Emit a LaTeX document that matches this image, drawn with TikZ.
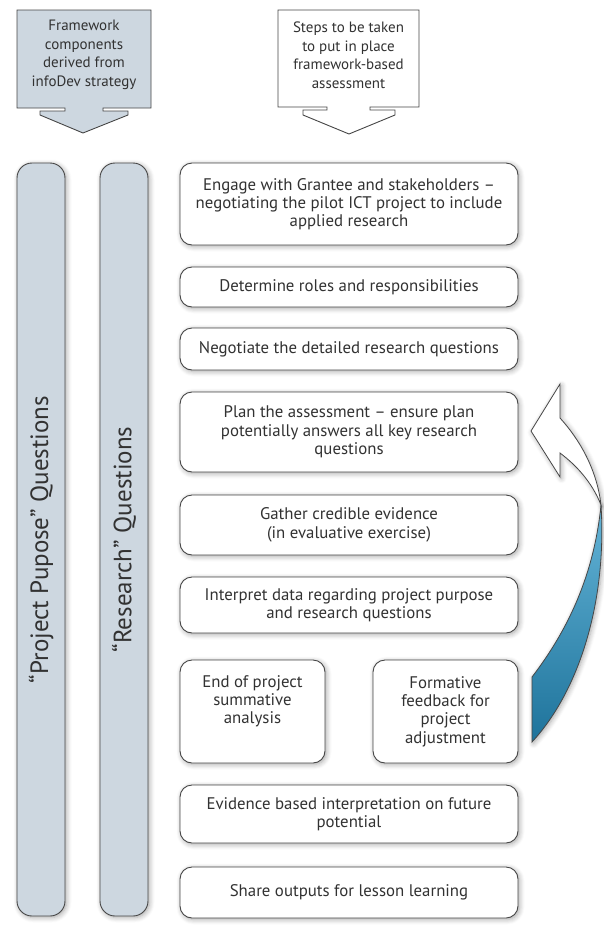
\documentclass[tikz,border=0pt]{standalone}
\usepackage{fontspec}
\setmainfont{PT Sans}
\usetikzlibrary{shadows.blur}
\definecolor{bgray}{RGB}{205,215,224}
\definecolor{edge}{RGB}{70,70,70}
\definecolor{txt}{RGB}{50,50,50}
\definecolor{bluedark}{RGB}{30,115,155}
\definecolor{bluelight}{RGB}{100,180,215}
\begin{document}
\begin{tikzpicture}[x=1pt,y=-1pt,
  softshadow/.style={blur shadow={shadow blur steps=6, shadow xshift=1.5pt, shadow yshift=-1.5pt, shadow blur radius=5pt, shadow opacity=35}},
  stepbox/.style={draw=edge, line width=0.9pt, fill=white, rounded corners=12pt, align=center,
    font=\fontsize{16.8}{18.3}\selectfont, text=txt, inner sep=0pt, softshadow},
  pill/.style={draw=edge, line width=0.9pt, fill=bgray, rounded corners=15pt, align=center,
    font=\fontsize{25}{28}\selectfont, text=txt, inner sep=0pt, rotate=90, softshadow},
  hdrtext/.style={align=center, font=\fontsize{15}{18.5}\selectfont, text=txt, inner sep=0pt},
  hdrshape/.style={draw=edge, line width=0.9pt}
]
\useasboundingbox (0,0) rectangle (604,927);

% header 1
\draw[hdrshape, fill=bgray] (17,10) -- (17,108) -- (65,108) -- (65,111) -- (40,111) -- (40,115)
  -- (83,133) -- (128,115) -- (128,111) -- (103,111) -- (103,108) -- (151,108) -- (151,10) -- cycle;
\node[hdrtext] (h1) at (84,55) {Framework\\components\\derived from\\infoDev strategy};

% header 2
\draw[hdrshape, fill=white] (278,10) -- (278,107) -- (327,107) -- (327,110) -- (303,110) -- (303,115)
  -- (349,134) -- (395,115) -- (395,110) -- (370,110) -- (370,107) -- (419,107) -- (419,10) -- cycle;
\node[hdrtext] (h2) at (348.5,55) {Steps to be taken\\to put in place\\framework-based\\assessment};

% pills
\node[pill, minimum width=753, minimum height=48] (pp) at (41,539.5) {“Project Pupose” Questions};
\node[pill, minimum width=753, minimum height=48] (rq) at (124,539.5) {“Research” Questions};

% steps
\node[stepbox, minimum width=338, minimum height=82] (s1) at (349,204)
  {Engage with Grantee and stakeholders –\\negotiating the pilot ICT project to include\\applied research};
\node[stepbox, minimum width=338, minimum height=40] (s2) at (349,287) {Determine roles and responsibilities};
\node[stepbox, minimum width=338, minimum height=42] (s3) at (349,349) {Negotiate the detailed research questions};
\node[stepbox, minimum width=338, minimum height=80] (s4) at (349,432)
  {Plan the assessment – ensure plan\\potentially answers all key research\\questions};
\node[stepbox, minimum width=338, minimum height=60] (s5) at (349,525)
  {Gather credible evidence\\(in evaluative exercise)};
\node[stepbox, minimum width=338, minimum height=56] (s6) at (349,605)
  {Interpret data regarding project purpose\\and research questions};
\node[stepbox, minimum width=145, minimum height=103] (s7a) at (252.5,711.5)
  {End of project\\summative\\analysis\\\strut};
\node[stepbox, minimum width=145, minimum height=103] (s7b) at (445.5,711.5)
  {Formative\\feedback for\\project\\adjustment};
\node[stepbox, minimum width=338, minimum height=58] (s8) at (349,814)
  {Evidence based interpretation on future\\potential};
\node[stepbox, minimum width=338, minimum height=51] (s9) at (349,892.5)
  {Share outputs for lesson learning};

% curved feedback arrow
\coordinate (P) at (601,505);
\path[softshadow, draw=edge, line width=0.8pt, top color=bluelight, bottom color=bluedark]
  (P) .. controls (607,600) and (580,690) .. (532,742) -- (532,677)
  .. controls (568,630) and (594,575) .. (P) -- cycle;
\path[softshadow, draw=edge, line width=0.8pt, fill=white]
  (P) .. controls (597,470) and (580,440) .. (560,418) -- (560,384) -- (531,431) -- (560,477) -- (560,453)
  .. controls (576,465) and (592,482) .. (P) -- cycle;
\end{tikzpicture}
\end{document}
